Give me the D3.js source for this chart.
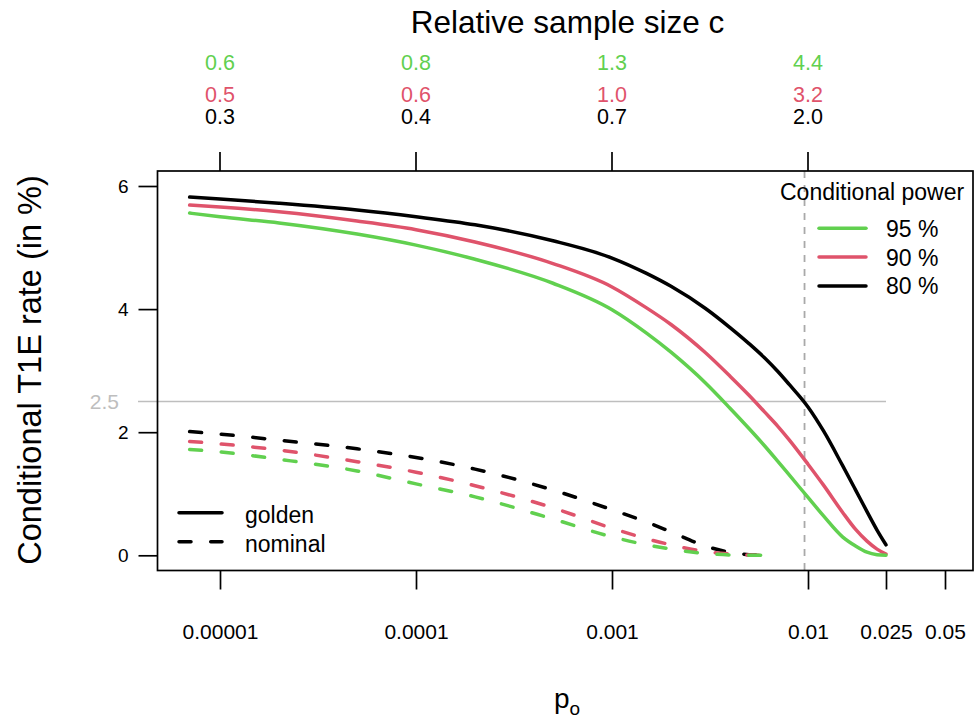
<!DOCTYPE html>
<html>
<head>
<meta charset="utf-8">
<script src="https://cdn.jsdelivr.net/npm/d3@7"></script>
<style>
  html, body { margin: 0; padding: 0; background: #fff; }
  svg { display: block; font-family: "Liberation Sans", Arial, Helvetica, sans-serif; }
</style>
</head>
<body>
<svg id="chart" width="976" height="722"></svg>
<script>
// ---------------- data ----------------
const pGolden = [7e-6, 1e-5, 2e-5, 5e-5, 1e-4, 2e-4, 5e-4, 1e-3, 1.5e-3, 2e-3, 3e-3, 4e-3, 5e-3, 6e-3, 7e-3, 8e-3, 1e-2, 1.2e-2, 1.5e-2, 1.75e-2, 2e-2, 2.25e-2, 2.5e-2];
const golden95 = [5.56, 5.50, 5.40, 5.22, 5.04, 4.81, 4.42, 3.99, 3.61, 3.30, 2.80, 2.39, 2.06, 1.78, 1.53, 1.31, 0.94, 0.64, 0.30, 0.15, 0.05, 0.01, 0.00];
const golden90 = [5.69, 5.66, 5.58, 5.43, 5.29, 5.09, 4.74, 4.36, 4.02, 3.75, 3.29, 2.91, 2.60, 2.33, 2.10, 1.88, 1.48, 1.14, 0.70, 0.42, 0.23, 0.10, 0.02];
const golden80 = [5.82, 5.79, 5.72, 5.61, 5.50, 5.37, 5.11, 4.83, 4.58, 4.37, 4.01, 3.70, 3.44, 3.21, 2.99, 2.78, 2.41, 2.02, 1.46, 1.06, 0.71, 0.41, 0.17];

const pNominal = [7e-6, 1e-5, 2e-5, 5e-5, 1e-4, 2e-4, 5e-4, 1e-3, 1.5e-3, 2e-3, 3e-3, 4e-3, 5e-3, 6.1e-3];
const nominal95 = [1.72, 1.68, 1.56, 1.37, 1.16, 0.95, 0.59, 0.30, 0.17, 0.10, 0.03, 0.005, 0.0, 0.0];
const nominal90 = [1.85, 1.81, 1.71, 1.52, 1.35, 1.13, 0.77, 0.44, 0.27, 0.17, 0.06, 0.02, 0.005, 0.0];
const nominal80 = [2.01, 1.97, 1.87, 1.73, 1.59, 1.40, 1.06, 0.74, 0.54, 0.38, 0.15, 0.05, 0.01, 0.0];

const powerLabels = ["95 %", "90 %", "80 %"];
const powerColors = ["#61D04F", "#DF536B", "#000000"];

const xTickValues = [1e-5, 1e-4, 1e-3, 1e-2, 0.025, 0.05];
const xTickLabels = ["0.00001", "0.0001", "0.001", "0.01", "0.025", "0.05"];
const yTickValues = [0, 2, 4, 6];
const refLevel = 2.5;
const crossP = 0.0096;

const topTickValues = [1e-5, 1e-4, 1e-3, 1e-2];
const sampleSize95 = ["0.6", "0.8", "1.3", "4.4"];
const sampleSize90 = ["0.5", "0.6", "1.0", "3.2"];
const sampleSize80 = ["0.3", "0.4", "0.7", "2.0"];

// ---------------- layout ----------------
const box = { left: 157.5, right: 973, top: 171, bottom: 570.5 };
const svg = d3.select("#chart");
const FONT = "'Liberation Sans', Arial, Helvetica, sans-serif";

const x = d3.scaleLog().domain([1e-5, 1e-2]).range([220, 808]);
const y = d3.scaleLinear().domain([0, 6]).range([555.3, 186]);

// reference line at 2.5
svg.append("line")
  .attr("x1", 138).attr("x2", x(0.025))
  .attr("y1", y(refLevel)).attr("y2", y(refLevel))
  .attr("stroke", "#BEBEBE").attr("stroke-width", 1.6);
svg.append("text")
  .attr("x", 119).attr("y", y(refLevel)).attr("dy", "0.36em")
  .attr("text-anchor", "end").attr("font-size", 21).attr("fill", "#BEBEBE")
  .text("2.5");

// vertical dashed line
svg.append("line")
  .attr("x1", x(crossP)).attr("x2", x(crossP))
  .attr("y1", box.top).attr("y2", box.bottom)
  .attr("stroke", "#A9A9A9").attr("stroke-width", 1.8)
  .attr("stroke-dasharray", "7,7");

// curves
const line = d3.line().x(d => x(d[0])).y(d => y(d[1])).curve(d3.curveMonotoneX);
const goldenSeries = [golden95, golden90, golden80];
const nominalSeries = [nominal95, nominal90, nominal80];

[2, 1, 0].forEach(i => {
  svg.append("path")
    .datum(pNominal.map((p, j) => [p, nominalSeries[i][j]]))
    .attr("d", line)
    .attr("fill", "none").attr("stroke", powerColors[i])
    .attr("stroke-width", 3.5).attr("stroke-linecap", "round")
    .attr("stroke-dasharray", "12,19.7");
});
[2, 1, 0].forEach(i => {
  svg.append("path")
    .datum(pGolden.map((p, j) => [p, goldenSeries[i][j]]))
    .attr("d", line)
    .attr("fill", "none").attr("stroke", powerColors[i])
    .attr("stroke-width", 3.5).attr("stroke-linecap", "round");
});

// frame
svg.append("rect")
  .attr("x", box.left).attr("y", box.top)
  .attr("width", box.right - box.left).attr("height", box.bottom - box.top)
  .attr("fill", "none").attr("stroke", "#000").attr("stroke-width", 1.7);

// bottom axis
const xAxis = d3.axisBottom(x).tickValues(xTickValues)
  .tickFormat((d, i) => xTickLabels[i]).tickSize(19).tickPadding(35);
const gx = svg.append("g").attr("transform", `translate(0,${box.bottom})`).call(xAxis);
gx.select(".domain").remove();
gx.selectAll("line").attr("stroke-width", 1.7);
gx.selectAll("text").attr("font-size", 21).attr("fill", "#000").attr("font-family", FONT);

// left axis
const yAxis = d3.axisLeft(y).tickValues(yTickValues).tickFormat(d3.format("d"))
  .tickSize(19).tickPadding(10);
const gy = svg.append("g").attr("transform", `translate(${box.left},0)`).call(yAxis);
gy.select(".domain").remove();
gy.selectAll("line").attr("stroke-width", 1.7);
gy.selectAll("text").attr("font-size", 19).attr("fill", "#000").attr("font-family", FONT);

// top axis ticks
svg.append("g").selectAll("line").data(topTickValues).join("line")
  .attr("x1", d => x(d)).attr("x2", d => x(d))
  .attr("y1", 152).attr("y2", box.top)
  .attr("stroke", "#000").attr("stroke-width", 1.7);

const topRows = [
  { labels: sampleSize95, color: powerColors[0], base: 70 },
  { labels: sampleSize90, color: powerColors[1], base: 102 },
  { labels: sampleSize80, color: powerColors[2], base: 124 }
];
topRows.forEach(r => {
  svg.append("g").selectAll("text").data(topTickValues).join("text")
    .attr("x", d => x(d)).attr("y", r.base)
    .attr("text-anchor", "middle").attr("font-size", 21.5).attr("fill", r.color)
    .text((d, i) => r.labels[i]);
});

// titles
svg.append("text").attr("x", 567.5).attr("y", 33)
  .attr("text-anchor", "middle").attr("font-size", 31.5)
  .text("Relative sample size c");

svg.append("text")
  .attr("transform", "translate(41,370) rotate(-90)")
  .attr("text-anchor", "middle").attr("font-size", 32.5)
  .text("Conditional T1E rate (in %)");

const xt = svg.append("text").attr("x", 567).attr("y", 708)
  .attr("text-anchor", "middle").attr("font-size", 28);
xt.append("tspan").text("p");
xt.append("tspan").attr("font-size", 19).attr("dy", 7).text("o");

// power legend
svg.append("text").attr("x", 780).attr("y", 200).attr("font-size", 23)
  .text("Conditional power");
powerLabels.forEach((lab, i) => {
  const ly = 228.3 + i * 28.8;
  svg.append("line").attr("x1", 819).attr("x2", 866).attr("y1", ly).attr("y2", ly)
    .attr("stroke", powerColors[i]).attr("stroke-width", 3.5).attr("stroke-linecap", "round");
  svg.append("text").attr("x", 886).attr("y", ly + 8.4).attr("font-size", 23).text(lab);
});

// type legend
const typeLegend = [
  { label: "golden", dash: null, y: 512.7 },
  { label: "nominal", dash: "12,19.7", y: 541.7 }
];
typeLegend.forEach(t => {
  const l = svg.append("line").attr("x1", 179).attr("x2", 222).attr("y1", t.y).attr("y2", t.y)
    .attr("stroke", "#000").attr("stroke-width", 3.5).attr("stroke-linecap", "round");
  if (t.dash) l.attr("stroke-dasharray", t.dash);
  svg.append("text").attr("x", 245).attr("y", t.y + 10.5).attr("font-size", 23).text(t.label);
});
</script>
</body>
</html>
